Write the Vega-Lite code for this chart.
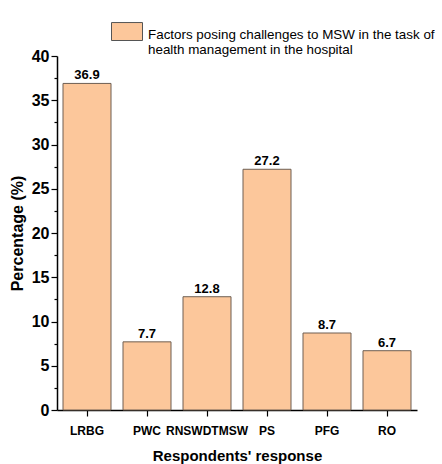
{
  "$schema": "https://vega.github.io/schema/vega-lite/v6.json",
  "width": 360,
  "height": 354,
  "autosize": {"type": "none"},
  "padding": {"left": 57, "top": 56, "right": 25, "bottom": 54},
  "background": "white",
  "config": {"view": {"stroke": null}, "font": "Liberation Sans"},
  "data": {"values": [
    {"response": "LRBG", "pct": 36.9, "series": "Factors"},
    {"response": "PWC", "pct": 7.7, "series": "Factors"},
    {"response": "RNSWDTMSW", "pct": 12.8, "series": "Factors"},
    {"response": "PS", "pct": 27.2, "series": "Factors"},
    {"response": "PFG", "pct": 8.7, "series": "Factors"},
    {"response": "RO", "pct": 6.7, "series": "Factors"}
  ]},
  "encoding": {
    "x": {"field": "response", "type": "nominal", "sort": null,
      "scale": {"paddingInner": 0.2, "paddingOuter": 0.1},
      "axis": {"title": "Respondents' response", "titleFontSize": 15, "titleFontWeight": "bold", "titleColor": "#000", "titlePadding": 12,
        "labelAngle": 0, "labelFontSize": 12, "labelFontWeight": "bold", "labelColor": "#000", "labelPadding": 9,
        "domainColor": "#000", "domainWidth": 1.5, "tickColor": "#000", "tickSize": 6, "tickWidth": 1.2}},
    "y": {"field": "pct", "type": "quantitative",
      "scale": {"domain": [0, 40], "nice": false},
      "axis": {"title": "Percentage (%)", "titleFontSize": 16, "titleFontWeight": "bold", "titleColor": "#000", "titlePadding": 6,
        "values": [0, 2.5, 5, 7.5, 10, 12.5, 15, 17.5, 20, 22.5, 25, 27.5, 30, 32.5, 35, 37.5, 40],
        "labelExpr": "datum.value % 5 === 0 ? datum.label : ''",
        "labelFontSize": 16, "labelFontWeight": "bold", "labelColor": "#000", "labelPadding": 2,
        "grid": false, "domainColor": "#000", "domainWidth": 1.5, "tickColor": "#000", "tickWidth": 1.2,
        "tickSize": {"expr": "datum.value % 5 === 0 ? 6 : 3"}}}
  },
  "layer": [
    {"mark": {"type": "bar", "stroke": "#6e5f52", "strokeWidth": 1},
      "encoding": {"fill": {"field": "series", "type": "nominal",
        "scale": {"range": ["#FCC79B"]},
        "legend": {"orient": "none", "legendX": 54, "legendY": -33.5, "title": null,
          "symbolType": "M-1,-1.03H1V0.13H-1Z", "symbolSize": 961, "symbolStrokeColor": "#555", "symbolStrokeWidth": 1,
          "labelExpr": "['Factors posing challenges to MSW in the task of', 'health management in the hospital']",
          "labelFont": "Liberation Sans", "labelFontSize": 13.4, "labelLineHeight": 19, "labelColor": "#000", "labelOffset": 5, "labelLimit": 400, "labelBaseline": "alphabetic"}}}},
    {"mark": {"type": "text", "dy": -8, "fontSize": 13, "fontWeight": "bold", "color": "#000"},
      "encoding": {"text": {"field": "pct", "type": "quantitative", "format": ".1f"}}}
  ]
}
